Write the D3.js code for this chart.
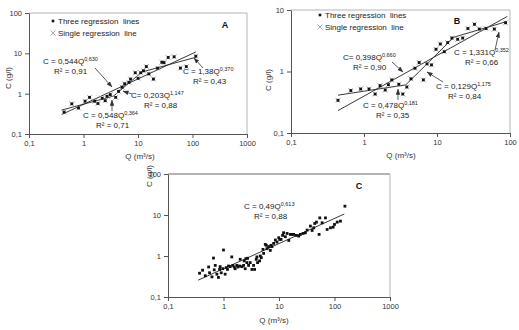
<!DOCTYPE html>
<html><head><meta charset="utf-8">
<script src="https://cdn.jsdelivr.net/npm/d3@7"></script>
<style>body{margin:0;background:#fff}svg{display:block;font-family:"Liberation Sans",Arial,sans-serif}</style>
</head><body><script>
// ---- Data ----
const qA=[0.44,0.61,0.81,1.07,1.29,1.6,1.84,2.2,2.5,2.7,3.1,3.9,4.4,5.1,5.7,6.8,7.3,8.9,10,11.2,12.6,14.2,15.8,19.2,22.8,27.4,30,35.8,46,60,77,115];
const cA=[0.35,0.56,0.44,0.65,0.81,0.65,0.57,0.77,0.67,0.86,0.95,0.81,1.14,1.45,1.76,1.9,2.3,3.3,2.4,3.3,3.7,4.7,3.1,2.3,4.3,6,5.9,7.9,8.2,4.3,4.7,8.5];
const qB=[0.44,0.66,0.9,1.17,1.42,1.66,1.95,2.16,2.4,3.0,3.4,3.86,4.4,5.0,5.7,6.5,7.3,8.4,9.7,11.1,12.6,14,16,19.2,22.5,26.5,32.6,38,47,61,87];
const cB=[0.34,0.49,0.52,0.52,0.43,0.59,0.5,0.61,0.73,0.62,0.43,0.56,0.76,1.13,1.4,0.73,1.33,1.28,2.3,2.8,2.1,2.95,3.5,3.34,3.5,5.0,5.85,4.9,5.0,4.9,6.2];
const qC=[0.37,0.42,0.47,0.54,0.56,0.62,0.66,0.68,0.71,0.76,0.81,0.85,0.87,0.91,0.97,1.0,1.07,1.12,1.18,1.23,1.32,1.41,1.47,1.56,1.62,1.74,1.82,1.95,2.0,2.15,2.3,2.36,2.46,2.53,2.64,2.72,2.83,3.03,3.25,3.48,3.63,3.89,4.0,4.11,4.47,4.6,4.8,5.14,5.28,5.66,5.9,6.07,6.5,6.97,7.17,7.47,8.0,8.6,9.2,9.9,10.3,10.9,11.6,12.1,13.0,14.0,15.0,16.0,17.2,18.4,20.6,22.7,24.3,27.2,29.9,32.1,36.8,39.5,42.3,44.1,47.3,52.8,54.3,59.8,68.8,73.7,84.6,94.6,100,112,128,154];
const cC=[0.38,0.45,0.33,0.54,0.39,0.31,0.89,0.46,0.59,0.36,0.30,0.47,0.55,0.39,0.49,1.4,0.36,0.52,0.47,0.57,0.55,0.95,0.59,0.54,0.49,0.59,0.54,0.57,0.83,0.55,0.59,0.76,0.49,0.86,0.69,0.88,0.59,0.69,0.47,0.59,0.47,0.83,0.95,0.69,0.76,1.0,0.91,1.45,1.16,1.92,1.82,1.51,1.69,1.37,1.82,1.69,2.03,2.45,2.19,2.79,2.54,2.54,3.18,3.69,2.95,3.55,2.4,3.36,3.36,3.36,3.18,3.06,3.36,3.55,3.69,4.28,5.36,4.2,4.88,6.22,6.7,3.36,8.5,6.45,8.5,4.44,4.88,5.06,5.88,6.7,7.09,16.4];
// regression fits: [coefficient, exponent, Qmin, Qmax]
const fitsA=[[0.544,0.630,0.40,115],[0.548,0.364,0.40,3.55],[0.203,1.147,3.55,11.8],[1.38,0.370,11.8,115]];
const fitsB=[[0.398,0.660,0.44,92],[0.478,0.181,0.44,3.73],[0.129,1.175,3.73,17],[1.331,0.352,17,90]];
const fitsC=[[0.49,0.613,0.35,150]];
const xTicksA=[0.1,1,10,100,1000], yTicksA=[0.1,1,10,100];
const xTicksB=[0.1,1,10,100], yTicksB=[0.1,1,10];
const xTicksC=[0.1,1,10,100,1000], yTicksC=[0.1,1,10,100];
const legendLabels=["Three regression  lines","Single regression  line"];
const xLabel="Q (m³/s)", yLabel="C (g/l)";
// annotations: [C-text, exponent, R²-text]
const annA=[["C = 0,544Q","0,630","R² = 0,91"],["C = 0,548Q","0,364","R² = 0,71"],["C= 0,203Q","1,147","R² = 0,88"],["C = 1,38Q","0,370","R² = 0,43"]];
const annB=[["C= 0,398Q","0,660","R² = 0,90"],["C = 0,478Q","0,181","R² = 0,35"],["C = 0,129Q","1,175","R² = 0,84"],["C = 1,331Q","0,352","R² = 0,66"]];
const annC=[["C = 0,49Q","0,613","R² = 0,88"]];

const svg=d3.select('body').append('svg').attr('width',519).attr('height',330);
svg.append('rect').attr('width',519).attr('height',330).attr('fill','#fff');
const defs=svg.append('defs');
defs.append('marker').attr('id','arr').attr('viewBox','0 0 8 6').attr('refX',7.5).attr('refY',3)
  .attr('markerWidth',6).attr('markerHeight',4.5).attr('orient','auto').attr('markerUnits','userSpaceOnUse')
  .append('path').attr('d','M0,0 L8,3 L0,6 Z').attr('fill','#333');
const fmt=d=>String(d).replace('.',',');

function drawPanel(p){
  const x=d3.scaleLog().domain(p.xd).range([p.l,p.r]);
  const y=d3.scaleLog().domain(p.yd).range([p.b,p.t]);
  const g=svg.append('g');
  g.append('line').attr('x1',p.l).attr('x2',p.r).attr('y1',p.t).attr('y2',p.t).attr('stroke','#b4b4b4').attr('stroke-width',p.topW);
  g.append('line').attr('x1',p.r).attr('x2',p.r).attr('y1',p.t).attr('y2',p.b).attr('stroke','#b4b4b4').attr('stroke-width',1);
  const xa=g.append('g').attr('transform',`translate(0,${p.b})`)
    .call(d3.axisBottom(x).tickValues(p.xt).tickFormat(fmt).tickSize(4).tickSizeOuter(0));
  const ya=g.append('g').attr('transform',`translate(${p.l},0)`)
    .call(d3.axisLeft(y).tickValues(p.yt).tickFormat(fmt).tickSize(4).tickSizeOuter(0));
  [xa,ya].forEach(a=>{
    a.select('.domain').attr('stroke','#555');
    a.selectAll('.tick line').attr('stroke','#555');
    a.selectAll('.tick text').attr('fill','#333').style('font-size','7.5px').style('font-family','"Liberation Sans",Arial,sans-serif');
  });
  g.append('text').attr('x',p.xlx).attr('y',p.xly).attr('text-anchor','middle').attr('fill','#333').style('font-size','8px').text(xLabel);
  g.append('text').attr('transform',`translate(${p.ylx},${p.yly}) rotate(-90)`).attr('text-anchor','middle').attr('fill','#333').style('font-size','8px').text(yLabel);
  const line=d3.line().x(d=>x(d[0])).y(d=>y(d[1]));
  p.fits.forEach(f=>{
    const pts=[[f[2],f[0]*Math.pow(f[2],f[1])],[f[3],f[0]*Math.pow(f[3],f[1])]];
    g.append('path').attr('d',line(pts)).attr('fill','none').attr('stroke','#222').attr('stroke-width',0.9);
  });
  const data=p.q.map((q,i)=>[q,p.c[i]]);
  if(p.crosses){
    g.selectAll(null).data(data).enter().append('path')
      .attr('d',d=>{const cx=x(d[0]),cy=y(d[1]);return `M${cx-2.5},${cy-2.5}L${cx+2.5},${cy+2.5}M${cx-2.5},${cy+2.5}L${cx+2.5},${cy-2.5}`;})
      .attr('stroke','#999').attr('stroke-width',0.8);
  }
  g.selectAll(null).data(data).enter().append('rect')
    .attr('x',d=>x(d[0])-1.4).attr('y',d=>y(d[1])-1.4).attr('width',2.8).attr('height',2.8).attr('fill','#111');
  if(p.leg){
    const [lx,ly]=p.leg;
    g.append('rect').attr('x',lx-1.3).attr('y',ly-1.3).attr('width',2.6).attr('height',2.6).attr('fill','#111');
    g.append('path').attr('d',`M${lx-2.5},${ly+9.5}L${lx+2.5},${ly+14.5}M${lx-2.5},${ly+14.5}L${lx+2.5},${ly+9.5}`).attr('stroke','#999').attr('stroke-width',0.8);
    legendLabels.forEach((t,i)=>{
      g.append('text').attr('x',lx+5).attr('y',ly+3+i*12).attr('fill','#222').style('font-size','8px').style('white-space','pre').text(t);
    });
  }
  g.append('text').attr('x',p.letter[1]).attr('y',p.letter[2]).attr('text-anchor','middle').attr('fill','#111')
    .style('font-size','9px').style('font-weight','bold').text(p.letter[0]);
  p.ann.forEach((a,i)=>{
    const pos=p.annPos[i];
    const t=g.append('text').attr('x',pos[0]).attr('y',pos[1]).attr('fill','#222').style('font-size','8px');
    t.append('tspan').text(a[0]);
    t.append('tspan').attr('dy',-3).style('font-size','5.5px').text(a[1]);
    g.append('text').attr('x',pos[2]).attr('y',pos[1]+9.5).attr('fill','#222').style('font-size','8px').text(a[2]);
    if(pos[3]){
      const ar=pos[3];
      g.append('line').attr('x1',ar[0]).attr('y1',ar[1]).attr('x2',ar[2]).attr('y2',ar[3])
        .attr('stroke','#333').attr('stroke-width',0.8).attr('marker-end','url(#arr)');
    }
  });
}

drawPanel({xd:[0.1,1000],yd:[0.1,100],l:29,r:247,t:13,b:134,topW:1,xt:xTicksA,yt:yTicksA,
  q:qA,c:cA,fits:fitsA,crosses:true,leg:[53,21],letter:['A',225,28],
  xlx:140,xly:159,ylx:11,yly:78,ann:annA,
  annPos:[[43,64,54,[95,68,112,87]],[83,118,96,[112,111,112,100]],[131,98,144,[132,94,123,91]],[183,74,193,[203,68,194,58]]]});
drawPanel({xd:[0.1,100],yd:[0.1,10],l:291,r:510,t:10,b:133,topW:1,xt:xTicksB,yt:yTicksB,
  q:qB,c:cB,fits:fitsB,crosses:true,leg:[320,15],letter:['B',457,24],
  xlx:401,xly:158,ylx:271,yly:80,ann:annB,
  annPos:[[343,60,353,[392,62,403,72]],[363,108,376,[398,100,398,89]],[436,89,448,[443,82,427,72]],[454,55,465,[495,50,499,32]]]});
drawPanel({xd:[0.1,1000],yd:[0.1,100],l:168,r:390,t:174,b:297,topW:2,xt:xTicksC,yt:yTicksC,
  q:qC,c:cC,fits:fitsC,crosses:false,leg:null,letter:['C',359,189],
  xlx:274,xly:323,ylx:152,yly:176,ann:annC,
  annPos:[[244,209,254,null]]});
</script></body></html>
